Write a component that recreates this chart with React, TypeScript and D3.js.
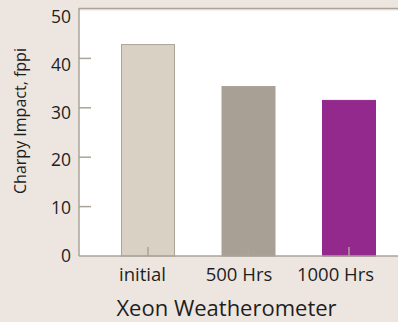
import React from "react";
import * as d3 from "d3";

const categories = ["initial", "500 Hrs", "1000 Hrs"];
const values = [42.8, 34.3, 31.5];
const colors = ["#d8d1c4", "#a9a095", "#93298c"];
const strokes = ["#aaa398", "#a9a095", "#93298c"];
const yTicks = [0, 10, 20, 30, 40, 50];

const W = 398, H = 322;
const left = 79, right = 398, top = 9, bottom = 256;
const font = "'Open Sans', 'Noto Sans', sans-serif";

export default function App() {
  const y = d3.scaleLinear().domain([0, 50]).range([bottom, top]);
  // tick labels sit on a slightly compressed scale in the reference
  const yLab = d3.scaleLinear().domain([0, 50]).range([262, 23]);
  const x = d3.scalePoint<string>().domain(categories).range([148, 349]);
  const xLab = d3.scalePoint<string>().domain(categories).range([142.5, 335.5]);
  const bw = 53;
  return (
    <svg width={W} height={H} style={{ position: "absolute", left: 0, top: 0 }}>
      <rect x={0} y={0} width={W} height={H} fill="#ede6e0" />
      <rect x={left} y={top} width={right - left} height={bottom - top} fill="#ffffff" />
      <line x1={left} x2={right} y1={top - 0.5} y2={top - 0.5} stroke="#aaa398" strokeWidth={1.5} />
      <line x1={left} x2={right} y1={top + 0.8} y2={top + 0.8} stroke="#d9d4ce" strokeWidth={1} />
      {categories.map((c, i) => (
        <rect key={c} x={(x(c) as number) - bw / 2} y={y(values[i])} width={bw}
          height={bottom - y(values[i])} fill={colors[i]} stroke={strokes[i]} strokeWidth={1} />
      ))}
      {categories.map((c) => (
        <line key={"t" + c} x1={x(c)} x2={x(c)} y1={bottom} y2={bottom - 9} stroke="#aaa398" strokeWidth={1.5} />
      ))}
      <line x1={left} x2={left} y1={top - 1} y2={bottom} stroke="#aaa398" strokeWidth={1.5} />
      <line x1={left} x2={right} y1={bottom} y2={bottom} stroke="#aaa398" strokeWidth={1.5} />
      {yTicks.map((t) => (
        <g key={t}>
          {t > 0 && t < 50 && (
            <line x1={left} x2={left + 12} y1={y(t)} y2={y(t)} stroke="#aaa398" strokeWidth={1.5} />
          )}
          <text x={71} y={yLab(t)} textAnchor="end" fontFamily={font} fontSize={17.5} fill="#1e1e1e">{t}</text>
        </g>
      ))}
      {categories.map((c) => (
        <text key={"l" + c} x={xLab(c)} y={281} textAnchor="middle" fontFamily={font} fontSize={18.5} fill="#1e1e1e">{c}</text>
      ))}
      <text x={226.5} y={316} textAnchor="middle" fontFamily={font} fontSize={22} fill="#1e1e1e">Xeon Weatherometer</text>
      <text transform={`translate(20,121) rotate(-90)`} textAnchor="middle" dy="0.36em" fontFamily={font} fontSize={16} fill="#1e1e1e">Charpy Impact, fppi</text>
    </svg>
  );
}
